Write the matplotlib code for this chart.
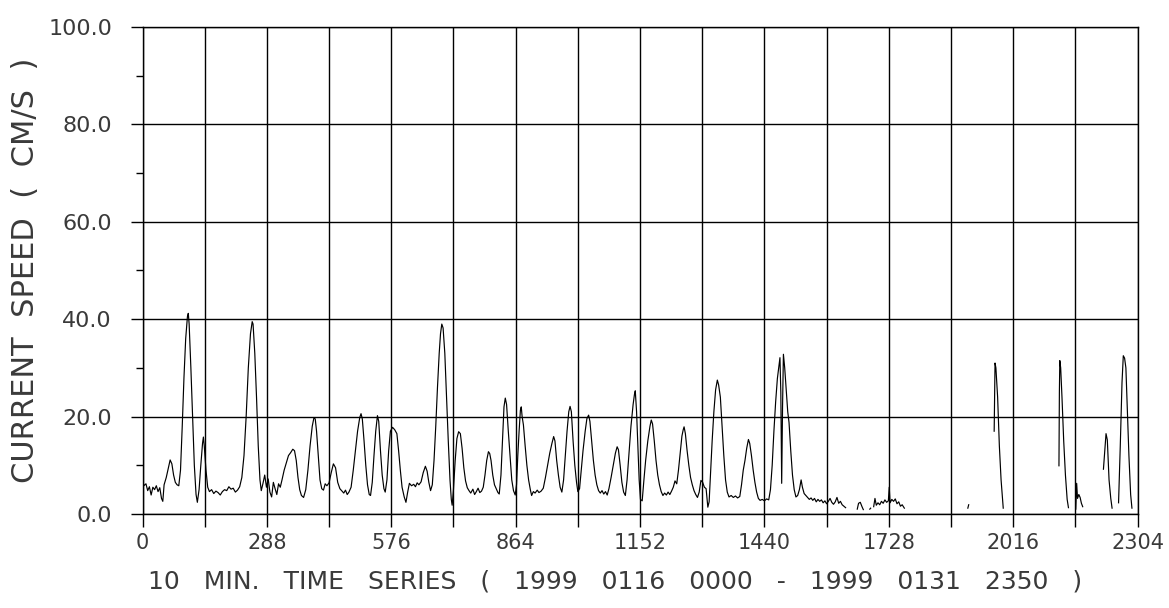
import numpy as np
import matplotlib.pyplot as plt

# 10 min samples counted from 1999-01-16 00:00; None marks missing records
sample_idx = [
    0, 3, 8, 12, 16, 20, 24, 28, 32, 36, 40, 44, 47, 50, 55, 60, 64, 68, 72, 76,
    80, 84, 88, 92, 96, 100, 104, 106, 108, 112, 116, 120, 124, 127, 131, 135, 139, 141, 143, 147,
    151, 155, 160, 165, 170, 175, 180, 185, 190, 195, 200, 205, 210, 215, 220, 225, 230, 235, 240, 245,
    250, 254, 256, 260, 264, 268, 272, 275, 279, 283, 287, 291, 295, 299, 303, 307, 311, 315, 319, 323,
    328, 333, 338, 343, 348, 352, 356, 360, 364, 368, 373, 378, 383, 388, 393, 397, 400, 403, 407, 411,
    415, 419, 423, 427, 432, 437, 442, 447, 452, 457, 461, 466, 470, 474, 478, 483, 488, 493, 498, 503,
    506, 509, 513, 517, 521, 525, 528, 532, 536, 540, 544, 547, 551, 555, 559, 562, 566, 570, 574, 579,
    584, 589, 593, 597, 601, 606, 610, 614, 618, 623, 628, 632, 636, 640, 645, 650, 655, 659, 663, 667,
    671, 675, 679, 683, 687, 690, 693, 696, 700, 704, 708, 712, 715, 717, 720, 724, 728, 732, 736, 740,
    744, 748, 752, 756, 760, 765, 769, 773, 777, 781, 785, 789, 793, 797, 801, 804, 807, 811, 815, 819,
    823, 826, 830, 834, 837, 840, 843, 847, 851, 855, 859, 863, 866, 869, 872, 875, 877, 879, 882, 886,
    890, 894, 898, 901, 905, 909, 914, 918, 923, 928, 933, 938, 943, 948, 952, 955, 959, 963, 967, 971,
    975, 979, 983, 987, 990, 993, 997, 1001, 1005, 1008, 1012, 1016, 1020, 1025, 1029, 1033, 1036, 1040, 1044, 1048,
    1052, 1056, 1060, 1064, 1068, 1072, 1076, 1080, 1085, 1090, 1095, 1099, 1102, 1106, 1110, 1114, 1118, 1122, 1126, 1131,
    1136, 1139, 1141, 1144, 1147, 1150, 1153, 1157, 1161, 1165, 1170, 1175, 1178, 1181, 1185, 1189, 1193, 1197, 1201, 1205,
    1209, 1213, 1217, 1221, 1225, 1229, 1233, 1237, 1241, 1245, 1249, 1252, 1254, 1257, 1261, 1265, 1269, 1273, 1277, 1281,
    1285, 1289, 1293, 1297, 1301, 1305, 1309, 1312, 1315, 1319, 1323, 1327, 1331, 1334, 1338, 1342, 1346, 1350, 1354, 1358,
    1363, 1368, 1373, 1378, 1383, 1387, 1391, 1395, 1399, 1403, 1406, 1410, 1414, 1418, 1422, 1426, 1430, 1435, 1440, 1445,
    1450, 1454, 1458, 1462, 1466, 1470, 1473, 1476, 1478, 1480, 1482, 1484, 1487, 1490, 1494, 1497, 1501, 1505, 1509, 1513,
    1517, 1521, 1525, 1528, 1532, 1536, 1540, 1544, 1548, 1552, 1556, 1560, 1564, 1568, 1572, 1576, 1580, 1584, 1588, 1592,
    1596, 1600, 1604, 1608, 1612, 1616, 1620, 1624, 1628, 1640,
    1655, 1658, 1662, 1666, 1669, 1676,
    1684, 1686, 1690,
    1693, 1696, 1699, 1703, 1707, 1711, 1715, 1719, 1723, 1727, 1729, 1731, 1735, 1739, 1743, 1747, 1751, 1755, 1759, 1764, 1800,
    1911, 1913, 1940,
    1972, 1974, 1976, 1980, 1984, 1988, 1993, 2050,
    2122, 2123, 2124, 2126, 2129, 2133, 2137, 2141, 2144, 2152,
    2161, 2163, 2165, 2168, 2171, 2174, 2177, 2200,
    2225, 2228, 2231, 2234, 2238, 2242, 2245, 2252,
    2260, 2264, 2268, 2271, 2274, 2277, 2280, 2284, 2288, 2291,
]

speed_cms = [
    7.6, 5.8, 6.2, 4.8, 5.6, 3.9, 5.5, 5.0, 5.8, 4.6, 5.4, 3.2, 2.6, 6.0, 7.5, 9.5, 11.1, 10.3, 8.0, 6.5,
    6.0, 5.8, 9.0, 18.0, 28.0, 36.0, 40.5, 41.2, 39.0, 30.0, 20.0, 10.0, 4.0, 2.4, 5.0, 10.0, 14.5, 15.8, 14.0, 9.0,
    5.5, 4.6, 5.0, 4.2, 4.7, 4.4, 3.9, 4.6, 5.0, 4.8, 5.6, 5.1, 5.3, 4.5, 4.9, 5.6, 7.5, 12.0, 20.0, 30.0,
    37.0, 39.5, 39.0, 33.0, 24.0, 14.0, 7.0, 4.8, 6.3, 8.0, 5.5, 7.2, 4.5, 3.5, 6.5, 5.2, 4.0, 6.2, 5.5, 7.0,
    9.0, 10.5, 12.0, 12.6, 13.3, 13.0, 11.0, 7.5, 5.0, 3.8, 3.4, 5.0, 9.0, 14.0, 18.0, 19.8, 19.5, 17.0, 12.0, 7.0,
    5.2, 4.9, 6.2, 5.8, 6.4, 8.5, 10.3, 9.5, 6.5, 5.2, 4.8, 4.3, 4.9, 4.0, 4.5, 5.5, 9.0, 13.0, 17.0, 19.8,
    20.6, 19.5, 15.0, 10.0, 6.0, 4.0, 3.8, 6.5, 12.0, 17.0, 20.2, 19.0, 13.0, 8.0, 5.2, 4.5, 7.0, 13.0, 17.0, 17.8,
    17.3, 16.5, 13.0, 9.0, 5.5, 3.5, 2.4, 4.5, 6.3, 5.8, 6.1, 5.6, 6.4, 6.0, 6.6, 8.5, 9.8, 8.8, 6.5, 4.8,
    6.0, 11.0, 18.0, 26.0, 33.0, 37.0, 39.0, 38.2, 33.0, 24.0, 15.0, 7.0, 3.0, 1.8, 5.0, 11.0, 15.5, 16.9, 16.5, 13.5,
    9.5, 6.8, 5.4, 4.8, 4.3, 5.1, 4.0, 4.6, 5.3, 4.4, 4.7, 5.5, 8.0, 11.0, 12.8, 12.4, 11.0, 8.0, 6.0, 5.2,
    4.4, 4.1, 8.0, 16.0, 22.0, 23.8, 22.5, 17.0, 12.0, 7.0, 4.8, 3.9, 6.0, 12.0, 17.0, 21.3, 22.0, 20.0, 18.3, 14.0,
    10.0, 7.0, 5.0, 3.8, 4.6, 4.3, 4.9, 4.4, 4.7, 5.3, 7.5, 10.0, 12.5, 14.5, 15.9, 15.0, 11.0, 8.0, 5.5, 4.5,
    7.0, 12.0, 17.0, 21.0, 22.1, 21.0, 15.0, 10.0, 6.5, 4.6, 5.2, 9.0, 13.0, 17.0, 19.6, 20.3, 19.0, 15.0, 11.0, 8.0,
    6.0, 4.8, 4.3, 4.8, 4.1, 4.6, 3.9, 5.2, 7.5, 10.0, 12.5, 13.8, 13.2, 10.0, 6.5, 4.5, 3.8, 7.0, 12.0, 18.0,
    22.5, 24.5, 25.3, 21.0, 14.0, 7.0, 3.0, 2.7, 7.0, 11.0, 15.0, 18.0, 19.3, 18.5, 15.0, 11.0, 8.0, 6.0, 4.6, 3.8,
    4.3, 3.9, 4.5, 4.0, 4.7, 5.5, 6.8, 6.2, 9.0, 12.5, 16.0, 17.3, 17.9, 16.5, 13.0, 10.0, 7.5, 6.0, 4.8, 4.0,
    3.4, 4.5, 6.9, 6.5, 5.5, 5.2, 1.4, 2.5, 8.0, 15.0, 21.0, 25.5, 27.5, 26.5, 24.0, 18.0, 12.0, 7.0, 4.5, 3.5,
    3.8, 3.4, 3.7, 3.3, 3.6, 6.0, 9.0, 11.0, 13.5, 15.3, 14.5, 12.0, 9.0, 6.5, 4.5, 3.2, 2.8, 3.0, 2.7, 3.1,
    2.9, 5.0, 10.0, 17.0, 23.0, 27.8, 30.0, 32.1, 25.0, 6.3, 22.0, 32.8, 30.0, 26.0, 21.0, 18.8, 13.0, 8.0, 5.0, 3.5,
    3.8, 5.0, 7.0, 5.5, 4.2, 3.8, 3.4, 3.0, 3.3, 2.8, 3.2, 2.5, 3.0, 2.6, 2.9, 2.3, 2.7, 2.1, 2.6, 3.2,
    2.4, 2.0, 2.5, 3.4, 2.2, 2.6, 1.9, 1.6, 1.3, None,
    1.0, 2.2, 2.4, 1.5, 0.9, None,
    1.0, 1.2, None,
    1.5, 3.2, 1.8, 2.3, 1.9, 2.6, 2.2, 2.9, 2.4, 2.7, 5.5, 2.3, 3.0, 2.6, 3.1, 2.1, 2.5, 1.6, 1.9, 1.2, None,
    1.2, 1.9, None,
    17.0, 31.0, 30.0, 24.0, 14.0, 7.0, 1.2, None,
    9.9, 25.0, 31.5, 30.0, 24.0, 15.0, 8.0, 3.0, 1.3, None,
    1.0, 6.3, 3.2, 4.0, 3.4, 2.2, 1.5, None,
    9.2, 13.0, 16.5, 15.2, 7.0, 3.2, 1.2, None,
    2.3, 14.0, 27.0, 32.5, 32.0, 30.0, 22.0, 12.0, 4.0, 1.2,
]

x_ticks = [0, 144, 288, 432, 576, 720, 864, 1008, 1152, 1296, 1440, 1584, 1728, 1872, 2016, 2160, 2304]
x_tick_labels = ['0', '', '288', '', '576', '', '864', '', '1152', '', '1440', '', '1728', '', '2016', '', '2304']
y_ticks = [0, 20, 40, 60, 80, 100]
y_tick_labels = ['0.0', '20.0', '40.0', '60.0', '80.0', '100.0']
y_minor = [10, 30, 50, 70, 90]

ink = '#3a3a3a'

fig = plt.figure(figsize=(11.69, 6.08), dpi=100)
ax = fig.add_axes([0.1219, 0.1546, 0.8512, 0.801])

t = np.array(sample_idx, dtype=float)
v = np.array([np.nan if s is None else s for s in speed_cms], dtype=float)
ax.plot(t, v, color='black', linewidth=0.85)

ax.set_xlim(0, 2304)
ax.set_ylim(0, 100)

ax.set_xticks(x_ticks)
ax.set_xticklabels(x_tick_labels)
ax.set_yticks(y_ticks)
ax.set_yticklabels(y_tick_labels)
ax.set_yticks(y_minor, minor=True)

ax.grid(True, which='major', color='black', linewidth=1.0)
ax.tick_params(axis='x', which='major', direction='out', length=9, width=1.0,
               pad=5, labelsize=15, labelcolor=ink)
ax.tick_params(axis='y', which='major', direction='out', length=9, width=1.0,
               pad=13, labelsize=16, labelcolor=ink)
ax.tick_params(axis='y', which='minor', direction='out', length=5, width=1.0)
for side in ax.spines.values():
    side.set_linewidth(1.0)

fig.text(0.526, 0.043, '10   MIN.   TIME   SERIES   (   1999   0116   0000   -   1999   0131   2350   )',
         ha='center', va='center', fontsize=18, color=ink)
fig.text(0.022, 0.556, 'CURRENT  SPEED  (  CM/S  )', rotation=90,
         ha='center', va='center', fontsize=22, color=ink)

fig.savefig('out.png', dpi=100)
